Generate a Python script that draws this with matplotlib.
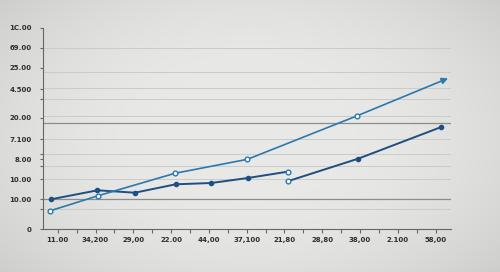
import numpy as np
import matplotlib
matplotlib.use("Agg")
import matplotlib.pyplot as plt

# label sumbu (dibaca apa adanya dari gambar)
x_labels = ["11.00", "34,200", "29,00", "22.00", "44,00", "37,100",
            "21,80", "28,80", "38,00", "2.100", "58,00"]
y_labels = ["0", "10.00", "10.00", "8.00", "7.100", "20.00",
            "4.500", "25.00", "69.00", "1C.00"]
y_label_pos = [0, 30, 50, 70, 90, 111, 140, 161, 181, 201]

# garis grid (tipis dan yang gelap)
grid_light = [20, 50, 63, 75, 90, 113, 130, 141, 157, 181]
grid_dark = [30, 106]

# seri gelap: dua potong, ujung potong pakai marker kosong
dark_a_x = [-0.18, 1.05, 2.04, 3.12, 4.06, 5.03, 6.08]
dark_a_y = [29.7, 38.7, 36.3, 44.7, 46.0, 51.0, 57.3]
dark_b_x = [6.08, 7.95, 10.13]
dark_b_y = [47.7, 70.3, 101.7]

# seri terang: marker kosong, ujung terakhir panah
light_x = [-0.22, 1.07, 3.10, 5.02, 7.93, 10.33]
light_y = [18.0, 33.3, 55.7, 69.7, 113.3, 150.7]

c_dark = "#1d4f82"
c_light = "#2b79ae"

fig = plt.figure(figsize=(5, 2.72), dpi=100)

# latar abu-abu dengan vignette
bg = fig.add_axes([0, 0, 1, 1], zorder=-5)
yy, xx = np.mgrid[-1:1:272j, -1:1:500j]
r = np.sqrt((xx * 0.85) ** 2 + (yy * 0.75) ** 2)
shade = 0.91 - 0.15 * np.clip(r - 0.35, 0, None) ** 1.6
bg.imshow(np.dstack([shade, shade, shade * 0.995]), aspect="auto",
          extent=[0, 1, 0, 1], vmin=0, vmax=1)
bg.axis("off")

ax = fig.add_axes([42.7 / 500, 43 / 272, 408 / 500, 201 / 272])
ax.set_facecolor("none")
ax.set_xlim(-0.4, 10.4)
ax.set_ylim(0, 201)

for g in grid_light:
    ax.axhline(g, color="#cbcbc9", lw=0.7, zorder=1)
for g in grid_dark:
    ax.axhline(g, color="#8c8c8c", lw=0.9, zorder=1)

ax.plot(dark_a_x, dark_a_y, color=c_dark, lw=1.4, zorder=3)
ax.plot(dark_a_x[:-1], dark_a_y[:-1], "o", color=c_dark, ms=3.0, zorder=4)
ax.plot(dark_b_x, dark_b_y, color=c_dark, lw=1.4, zorder=3)
ax.plot(dark_b_x[1:], dark_b_y[1:], "o", color=c_dark, ms=3.0, zorder=4)
ax.plot([dark_a_x[-1], dark_b_x[0]], [dark_a_y[-1], dark_b_y[0]], "o",
        mfc="white", mec=c_light, mew=1.0, ms=3.4, ls="none", zorder=5)

ax.plot(light_x[:-1], light_y[:-1], color=c_light, lw=1.2, zorder=3)
ax.annotate("", xy=(light_x[-1], light_y[-1]), xytext=(light_x[-2], light_y[-2]),
            arrowprops=dict(arrowstyle="-|>", color=c_light, lw=1.2,
                            mutation_scale=9, shrinkA=0, shrinkB=0), zorder=3)
ax.plot(light_x[:-1], light_y[:-1], "o", mfc="white", mec=c_light, mew=1.0,
        ms=3.4, ls="none", zorder=5)

for s in ["top", "right"]:
    ax.spines[s].set_visible(False)
for s in ["left", "bottom"]:
    ax.spines[s].set_color("#666666")
    ax.spines[s].set_linewidth(0.8)

ax.set_xticks(range(len(x_labels)))
ax.set_xticklabels(x_labels)
ax.set_xticks(np.arange(0.5, 10.5, 1.0), minor=True)
ax.set_yticks(y_label_pos)
ax.set_yticklabels(y_labels)
ax.set_yticks([20, 63, 75, 130], minor=True)

ax.tick_params(axis="both", which="both", colors="#666666", width=0.8,
               labelcolor="#2e2e2e", labelsize=5)
ax.tick_params(axis="x", which="both", length=3, pad=2.5)
ax.tick_params(axis="y", which="both", length=2.5, pad=5.5)
for t in ax.get_xticklabels() + ax.get_yticklabels():
    t.set_fontweight("semibold")

fig.savefig("out.png", dpi=100)
